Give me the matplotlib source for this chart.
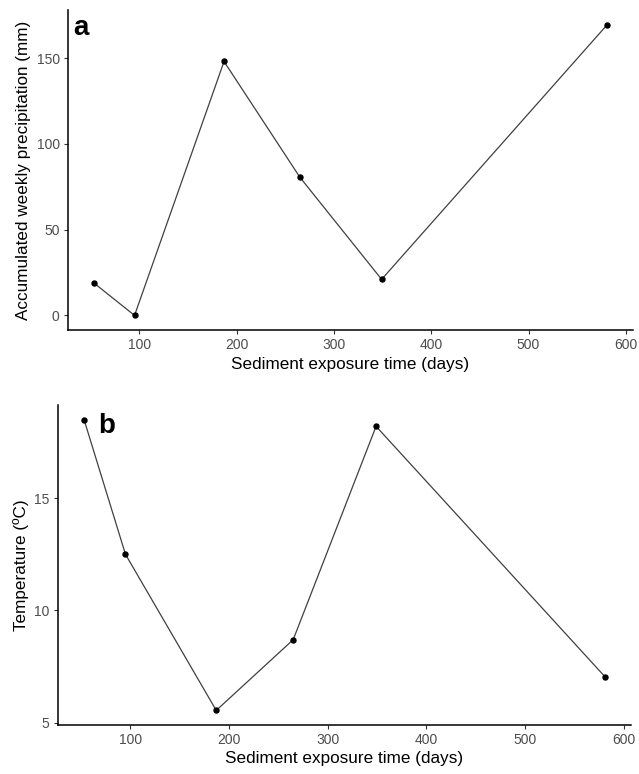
import matplotlib
matplotlib.use('Agg')
import matplotlib.pyplot as plt

plt.rcParams['font.family'] = ['Liberation Sans', 'DejaVu Sans']

# sediment exposure time (days)
days = [53, 95, 187, 265, 349, 581]
# accumulated weekly precipitation (mm)
precip = [19, 0, 148, 80.5, 21, 169.5]
# temperature (ºC)
temp = [18.5, 12.5, 5.55, 8.7, 18.2, 7.05]

W, H = 639, 774
fig = plt.figure(figsize=(W / 100, H / 100), dpi=100)


def px_axes(left, top, right, bottom):
    return fig.add_axes([left / W, 1 - bottom / H, (right - left) / W, (bottom - top) / H])


def style(ax):
    for s in ['top', 'right']:
        ax.spines[s].set_visible(False)
    for s in ['left', 'bottom']:
        ax.spines[s].set_linewidth(1.1)
        ax.spines[s].set_color('black')
    ax.tick_params(colors='#333333', labelcolor='#4D4D4D', labelsize=10,
                   length=3, width=0.8, pad=3)
    ax.set_xlim(26.6, 607.4)
    ax.set_xticks([100, 200, 300, 400, 500, 600])
    ax.set_xlabel('Sediment exposure time (days)', fontsize=12.3, labelpad=3)


ax1 = px_axes(68, 10, 633, 330)
ax1.plot(days, precip, color='#404040', lw=0.9, marker='o', ms=3.6,
         mfc='black', mec='black')
style(ax1)
ax1.set_ylim(-8.5, 178)
ax1.set_yticks([0, 50, 100, 150])
ax1.set_ylabel('Accumulated weekly precipitation (mm)', fontsize=12.3, labelpad=4)
ax1.text(73, H - 35, 'a', transform=None, fontsize=20, fontweight='bold',
         va='baseline', ha='left')

ax2 = px_axes(58, 405, 631, 725)
ax2.plot(days, temp, color='#404040', lw=0.9, marker='o', ms=3.6,
         mfc='black', mec='black')
style(ax2)
ax2.set_ylim(4.9, 19.15)
ax2.set_yticks([5, 10, 15])
ax2.set_ylabel('Temperature (ºC)', fontsize=12.3, labelpad=4)
ax2.text(98, H - 433, 'b', transform=None, fontsize=20, fontweight='bold',
         va='baseline', ha='left')

fig.savefig('out.png', dpi=100)
